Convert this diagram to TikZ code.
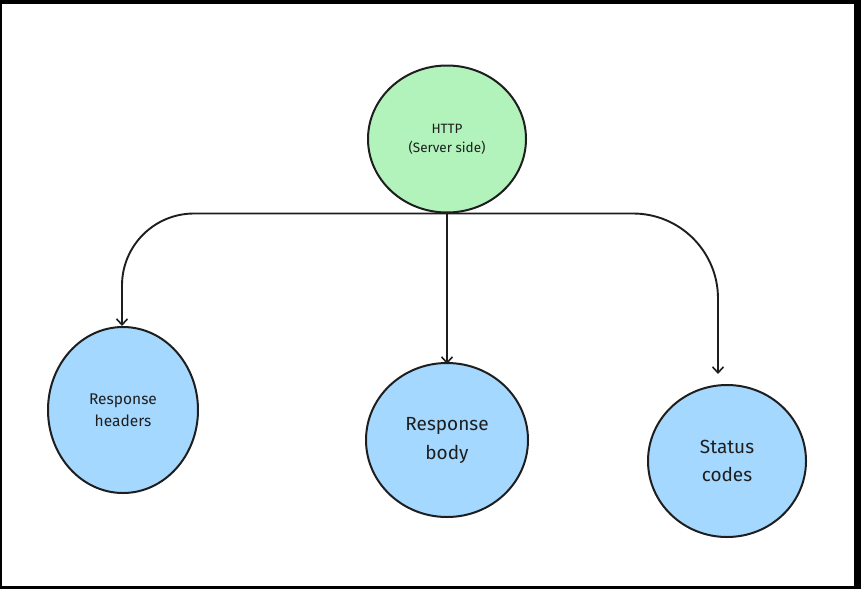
\documentclass[tikz,border=0pt]{standalone}
\usepackage{fontspec}
\setmainfont{Fira Sans}
\usetikzlibrary{shapes.geometric,arrows.meta}

\definecolor{ink}{HTML}{1E1E1E}
\definecolor{servergreen}{HTML}{B2F2BB}
\definecolor{partblue}{HTML}{A5D8FF}

\tikzset{
  bubble/.style={ellipse, draw=ink, line width=2pt, align=center, text=ink, inner sep=0pt},
  arr/.style={draw=ink, line width=1.9pt, -{Straight Barb[length=6pt,width=11pt,line width=1.6pt]}}
}

\begin{document}
\begin{tikzpicture}[x=1pt,y=-1pt]
\useasboundingbox (0,0) rectangle (861,589);
% frame
\fill[black] (0,0) rectangle (861,589);
\fill[white] (2,4) rectangle (854,586);
% HTTP server side
\node[bubble, fill=servergreen, minimum width=158pt, minimum height=147pt, font=\fontsize{13.5}{19}\selectfont] (http) at (447,139) {HTTP\\(Server side)};
% Parts of the response
\node[bubble, fill=partblue, minimum width=150pt, minimum height=166pt, font=\fontsize{15.5}{22}\selectfont] (headers) at (123,410) {Response\\headers};
\node[bubble, fill=partblue, minimum width=162pt, minimum height=154pt, font=\fontsize{19}{29}\selectfont] (body) at (447,440) {Response\\body};
\node[bubble, fill=partblue, minimum width=158pt, minimum height=152pt, font=\fontsize{19}{28}\selectfont] (status) at (727,461) {Status\\codes};
% Connecting lines
\draw[arr, rounded corners=72pt] (http.south) -| ([xshift=-1pt]headers.north);
\draw[arr] (http.south) -- ([yshift=-2pt]body.north);
\draw[arr, rounded corners=85pt, shorten >=10pt] (http.south) -| ([xshift=-9pt]status.north);
\end{tikzpicture}
\end{document}
